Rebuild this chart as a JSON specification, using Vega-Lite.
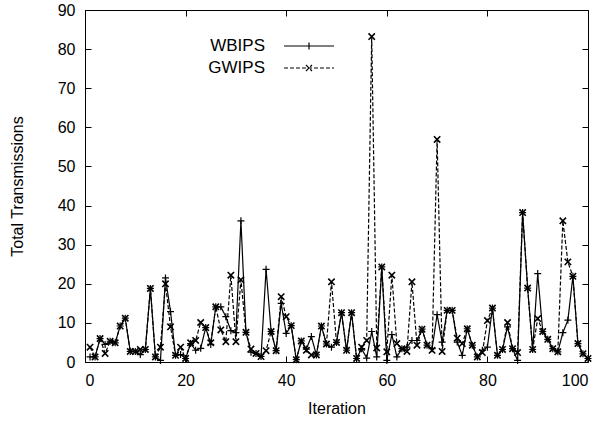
{
  "$schema": "https://vega.github.io/schema/vega-lite/v6.json",
  "width": 503,
  "height": 352,
  "autosize": {"type": "none"},
  "padding": {"left": 85, "top": 10, "right": 14, "bottom": 59},
  "background": "white",
  "config": {
    "font": "Liberation Sans",
    "view": {"stroke": "black", "strokeWidth": 1},
    "axis": {
      "domain": false,
      "grid": false,
      "ticks": true,
      "tickSize": -6,
      "tickColor": "black",
      "tickWidth": 1,
      "labelFont": "Liberation Sans",
      "labelFontSize": 16,
      "labelColor": "black",
      "labelPadding": 16,
      "titleFont": "Liberation Sans",
      "titleFontSize": 16,
      "titleFontWeight": "normal",
      "titleColor": "black"
    },
    "legend": {"labelFont": "Liberation Sans", "labelFontSize": 17, "labelColor": "black"}
  },
  "data": {
    "values": [
      {"i":1,"WBIPS":1.3,"GWIPS":3.8},{"i":2,"WBIPS":1.3,"GWIPS":1.3},{"i":3,"WBIPS":6.0,"GWIPS":6.0},{"i":4,"WBIPS":4.5,"GWIPS":2.2},{"i":5,"WBIPS":5.3,"GWIPS":5.3},
      {"i":6,"WBIPS":4.9,"GWIPS":4.9},{"i":7,"WBIPS":9.2,"GWIPS":9.2},{"i":8,"WBIPS":11.2,"GWIPS":11.2},{"i":9,"WBIPS":2.7,"GWIPS":2.7},{"i":10,"WBIPS":2.7,"GWIPS":2.7},
      {"i":11,"WBIPS":1.9,"GWIPS":3.2},{"i":12,"WBIPS":3.2,"GWIPS":3.2},{"i":13,"WBIPS":18.8,"GWIPS":18.8},{"i":14,"WBIPS":1.3,"GWIPS":1.3},{"i":15,"WBIPS":0.4,"GWIPS":3.8},
      {"i":16,"WBIPS":21.5,"GWIPS":20.0},{"i":17,"WBIPS":12.9,"GWIPS":9.0},{"i":18,"WBIPS":1.7,"GWIPS":1.7},{"i":19,"WBIPS":1.9,"GWIPS":3.8},{"i":20,"WBIPS":0.9,"GWIPS":0.9},
      {"i":21,"WBIPS":4.7,"GWIPS":4.9},{"i":22,"WBIPS":3.0,"GWIPS":5.5},{"i":23,"WBIPS":3.5,"GWIPS":10.1},{"i":24,"WBIPS":8.8,"GWIPS":8.8},{"i":25,"WBIPS":4.5,"GWIPS":4.9},
      {"i":26,"WBIPS":14.1,"GWIPS":14.1},{"i":27,"WBIPS":14.1,"GWIPS":8.2},{"i":28,"WBIPS":11.6,"GWIPS":5.2},{"i":29,"WBIPS":8.0,"GWIPS":22.2},{"i":30,"WBIPS":7.5,"GWIPS":5.2},
      {"i":31,"WBIPS":36.1,"GWIPS":21.0},{"i":32,"WBIPS":7.6,"GWIPS":7.6},{"i":33,"WBIPS":2.5,"GWIPS":3.3},{"i":34,"WBIPS":2.2,"GWIPS":2.2},{"i":35,"WBIPS":1.4,"GWIPS":1.4},
      {"i":36,"WBIPS":23.7,"GWIPS":2.9},{"i":37,"WBIPS":7.8,"GWIPS":7.8},{"i":38,"WBIPS":2.9,"GWIPS":2.9},{"i":39,"WBIPS":15.0,"GWIPS":16.7},{"i":40,"WBIPS":7.3,"GWIPS":11.6},
      {"i":41,"WBIPS":9.3,"GWIPS":9.3},{"i":42,"WBIPS":0.6,"GWIPS":0.6},{"i":43,"WBIPS":5.4,"GWIPS":5.4},{"i":44,"WBIPS":3.3,"GWIPS":3.0},{"i":45,"WBIPS":6.5,"GWIPS":1.8},
      {"i":46,"WBIPS":1.8,"GWIPS":1.8},{"i":47,"WBIPS":9.2,"GWIPS":9.2},{"i":48,"WBIPS":4.6,"GWIPS":4.6},{"i":49,"WBIPS":3.8,"GWIPS":20.5},{"i":50,"WBIPS":5.0,"GWIPS":5.0},
      {"i":51,"WBIPS":12.6,"GWIPS":12.6},{"i":52,"WBIPS":3.0,"GWIPS":3.0},{"i":53,"WBIPS":12.6,"GWIPS":12.6},{"i":54,"WBIPS":0.9,"GWIPS":0.9},{"i":55,"WBIPS":3.4,"GWIPS":3.8},
      {"i":56,"WBIPS":1.0,"GWIPS":5.5},{"i":57,"WBIPS":7.8,"GWIPS":83.2},{"i":58,"WBIPS":1.3,"GWIPS":3.6},{"i":59,"WBIPS":24.3,"GWIPS":24.3},{"i":60,"WBIPS":0.4,"GWIPS":2.6},
      {"i":61,"WBIPS":7.0,"GWIPS":22.2},{"i":62,"WBIPS":1.3,"GWIPS":4.7},{"i":63,"WBIPS":3.4,"GWIPS":3.4},{"i":64,"WBIPS":3.8,"GWIPS":2.7},{"i":65,"WBIPS":5.5,"GWIPS":20.5},
      {"i":66,"WBIPS":5.5,"GWIPS":4.3},{"i":67,"WBIPS":8.4,"GWIPS":8.4},{"i":68,"WBIPS":4.3,"GWIPS":4.3},{"i":69,"WBIPS":3.4,"GWIPS":3.0},{"i":70,"WBIPS":12.1,"GWIPS":56.9},
      {"i":71,"WBIPS":5.1,"GWIPS":2.7},{"i":72,"WBIPS":13.2,"GWIPS":13.2},{"i":73,"WBIPS":13.2,"GWIPS":13.2},{"i":74,"WBIPS":5.1,"GWIPS":6.1},{"i":75,"WBIPS":1.7,"GWIPS":4.7},
      {"i":76,"WBIPS":8.5,"GWIPS":8.5},{"i":77,"WBIPS":4.3,"GWIPS":4.3},{"i":78,"WBIPS":1.3,"GWIPS":1.3},{"i":79,"WBIPS":3.0,"GWIPS":2.4},{"i":80,"WBIPS":3.8,"GWIPS":10.6},
      {"i":81,"WBIPS":13.8,"GWIPS":13.8},{"i":82,"WBIPS":1.7,"GWIPS":1.7},{"i":83,"WBIPS":3.2,"GWIPS":3.2},{"i":84,"WBIPS":9.0,"GWIPS":10.1},{"i":85,"WBIPS":3.4,"GWIPS":3.4},
      {"i":86,"WBIPS":0.4,"GWIPS":2.4},{"i":87,"WBIPS":38.2,"GWIPS":38.2},{"i":88,"WBIPS":18.9,"GWIPS":18.9},{"i":89,"WBIPS":3.2,"GWIPS":3.2},{"i":90,"WBIPS":22.6,"GWIPS":11.1},
      {"i":91,"WBIPS":7.8,"GWIPS":7.8},{"i":92,"WBIPS":5.8,"GWIPS":5.8},{"i":93,"WBIPS":3.4,"GWIPS":3.4},{"i":94,"WBIPS":2.6,"GWIPS":2.6},{"i":95,"WBIPS":7.5,"GWIPS":36.1},
      {"i":96,"WBIPS":10.7,"GWIPS":25.6},{"i":97,"WBIPS":21.9,"GWIPS":21.9},{"i":98,"WBIPS":4.7,"GWIPS":4.7},{"i":99,"WBIPS":2.1,"GWIPS":2.1},{"i":100,"WBIPS":0.9,"GWIPS":0.9}
    ]
  },
  "transform": [{"fold": ["WBIPS", "GWIPS"], "as": ["series", "v"]}],
  "layer": [
    {
      "mark": {"type": "line", "color": "black", "strokeWidth": 1.2},
      "encoding": {
        "x": {"field": "i", "type": "quantitative", "scale": {"domain": [0, 100], "nice": false}, "axis": {"values": [0, 20, 40, 60, 80, 100], "title": "Iteration", "titlePadding": 12}},
        "y": {"field": "v", "type": "quantitative", "scale": {"domain": [0, 90], "nice": false}, "axis": {"values": [0, 10, 20, 30, 40, 50, 60, 70, 80, 90], "title": "Total Transmissions", "titlePadding": 32}},
        "detail": {"field": "series"},
        "strokeDash": {
          "field": "series", "type": "nominal",
          "scale": {"domain": ["WBIPS", "GWIPS"], "range": [[1, 0], [4, 2]]},
          "legend": {
            "title": null,
            "orient": "none",
            "legendX": 213,
            "legendY": 25,
            "padding": 0,
            "symbolSize": 400,
            "symbolStrokeColor": "black",
            "symbolStrokeWidth": 1.2,
            "symbolFillColor": "transparent",
            "labelAlign": "right",
            "labelOffset": -55,
            "rowPadding": 3,
            "encode": {
              "symbols": {
                "update": {
                  "shape": {"signal": "datum.value === 'WBIPS' ? 'M-2.5,0L2.5,0M0,-0.35L0,0.35' : 'M-2.5,0L2.5,0M-0.3,-0.3L0.3,0.3M-0.3,0.3L0.3,-0.3'"},
                  "stroke": {"value": "black"}
                }
              }
            }
          }
        }
      }
    },
    {
      "transform": [{"filter": "datum.series === 'WBIPS'"}],
      "mark": {"type": "point", "filled": false, "stroke": "black", "strokeWidth": 1.2, "size": 49, "opacity": 1, "shape": "M-1,0L1,0M0,-1L0,1"},
      "encoding": {
        "x": {"field": "i", "type": "quantitative", "axis": {"orient": "top", "values": [0, 20, 40, 60, 80, 100], "labels": false, "title": null}},
        "y": {"field": "v", "type": "quantitative", "axis": {"orient": "right", "values": [0, 10, 20, 30, 40, 50, 60, 70, 80, 90], "labels": false, "title": null}}
      }
    },
    {
      "transform": [{"filter": "datum.series === 'GWIPS'"}],
      "mark": {"type": "point", "filled": false, "stroke": "black", "strokeWidth": 1.6, "size": 56, "opacity": 1, "shape": "M-0.85,-0.85L0.85,0.85M-0.85,0.85L0.85,-0.85"},
      "encoding": {
        "x": {"field": "i", "type": "quantitative", "axis": null},
        "y": {"field": "v", "type": "quantitative", "axis": null}
      }
    }
  ],
  "resolve": {"axis": {"x": "independent", "y": "independent"}}
}
